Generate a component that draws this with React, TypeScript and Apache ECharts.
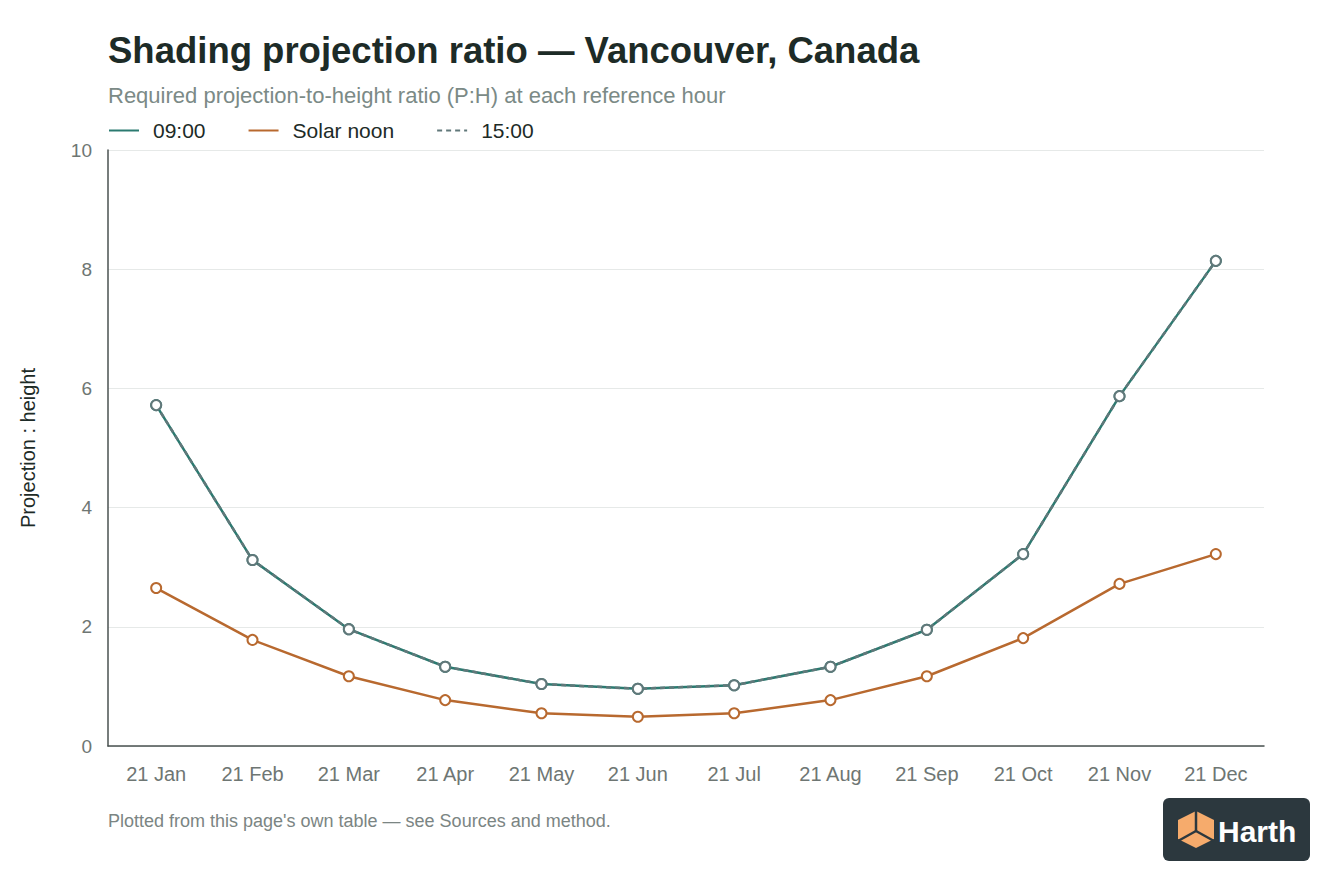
import React, { useEffect, useRef } from "react";
import * as echarts from "echarts";

const months = ["21 Jan", "21 Feb", "21 Mar", "21 Apr", "21 May", "21 Jun", "21 Jul", "21 Aug", "21 Sep", "21 Oct", "21 Nov", "21 Dec"];
const morning = [5.72, 3.12, 1.96, 1.33, 1.04, 0.96, 1.02, 1.33, 1.95, 3.22, 5.87, 8.14];
const noon = [2.65, 1.78, 1.17, 0.77, 0.55, 0.49, 0.55, 0.77, 1.17, 1.81, 2.72, 3.22];
const afternoon = [5.72, 3.12, 1.96, 1.33, 1.04, 0.96, 1.02, 1.33, 1.95, 3.22, 5.87, 8.14];

const FONT = "'Liberation Sans', Arial, sans-serif";

const App: React.FC = () => {
  const chartRef = useRef<HTMLDivElement | null>(null);

  useEffect(() => {
    document.body.style.margin = "0";
    if (!chartRef.current) return;
    const chart = echarts.init(chartRef.current, undefined, { renderer: "svg" });

    const lineSeries = (name: string, data: number[], color: string, dashed = false) => ({
      name,
      type: "line",
      data,
      symbol: "circle",
      symbolSize: 10,
      itemStyle: { color: "#fff", borderColor: color, borderWidth: 2 },
      lineStyle: { color, width: 2.5, type: dashed ? [5, 4] : "solid" },
    });

    chart.setOption({
      animation: false,
      textStyle: { fontFamily: FONT },
      title: {
        text: "Shading projection ratio — Vancouver, Canada",
        subtext: "Required projection-to-height ratio (P:H) at each reference hour",
        left: 103,
        top: 27,
        itemGap: 15,
        textStyle: { fontSize: 36.5, fontWeight: 600, color: "#1d2b27", fontFamily: FONT },
        subtextStyle: { fontSize: 22, color: "#7b8a86", fontFamily: FONT },
      },
      legend: {
        left: 108,
        top: 120,
        padding: 0,
        itemWidth: 30,
        itemHeight: 10,
        itemGap: 42,
        itemStyle: { opacity: 0 },
        textStyle: { fontSize: 21, color: "#1d2b27", fontFamily: FONT, padding: [0, 0, 0, 9] },
        data: ["09:00", "Solar noon", "15:00"],
      },
      grid: { left: 108, right: 80, top: 150, bottom: 150 },
      xAxis: {
        type: "category",
        data: months,
        boundaryGap: true,
        axisLine: { lineStyle: { color: "#4a5250", width: 1.5 } },
        axisTick: { show: false },
        axisLabel: { color: "#6e7673", fontSize: 20, margin: 18 },
      },
      yAxis: {
        type: "value",
        min: 0,
        max: 10,
        interval: 2,
        name: "Projection : height",
        nameLocation: "middle",
        nameGap: 70,
        nameTextStyle: { fontSize: 20, color: "#1d2b27" },
        axisLine: { show: true, lineStyle: { color: "#4a5250", width: 1.5 } },
        axisTick: { show: false },
        axisLabel: { color: "#6e7673", fontSize: 19, margin: 16 },
        splitLine: { lineStyle: { color: "#e6e9e8" } },
      },
      series: [
        lineSeries("09:00", morning, "#2b7a70"),
        lineSeries("Solar noon", noon, "#b8692f"),
        lineSeries("15:00", afternoon, "#61787a", true),
      ],
      graphic: [
        {
          type: "text",
          left: 108,
          top: 812,
          style: {
            text: "Plotted from this page's own table — see Sources and method.",
            fontSize: 18,
            fill: "#7b8583",
            fontFamily: FONT,
          },
        },
        {
          type: "group",
          left: 1163,
          top: 798,
          children: [
            { type: "rect", shape: { x: 0, y: 0, width: 147, height: 63, r: 6 }, style: { fill: "#2c383e" } },
            {
              type: "polygon",
              shape: { points: [[33, 13], [51, 22], [51, 41], [33, 50], [15, 41], [15, 22]] },
              style: { fill: "#f6ab6c" },
            },
            { type: "line", shape: { x1: 33, y1: 13, x2: 33, y2: 33 }, style: { stroke: "#2c383e", lineWidth: 2.5 } },
            { type: "line", shape: { x1: 33, y1: 33, x2: 15, y2: 43 }, style: { stroke: "#2c383e", lineWidth: 2.5 } },
            { type: "line", shape: { x1: 33, y1: 33, x2: 51, y2: 43 }, style: { stroke: "#2c383e", lineWidth: 2.5 } },
            {
              type: "text",
              x: 55,
              y: 33,
              style: {
                text: "Harth",
                fontSize: 30,
                fontWeight: "bold",
                fill: "#ffffff",
                fontFamily: FONT,
                verticalAlign: "middle",
              },
            },
          ],
        },
      ],
    });

    return () => {
      chart.dispose();
    };
  }, []);

  return <div ref={chartRef} style={{ width: 1344, height: 896 }} />;
};

export default App;
